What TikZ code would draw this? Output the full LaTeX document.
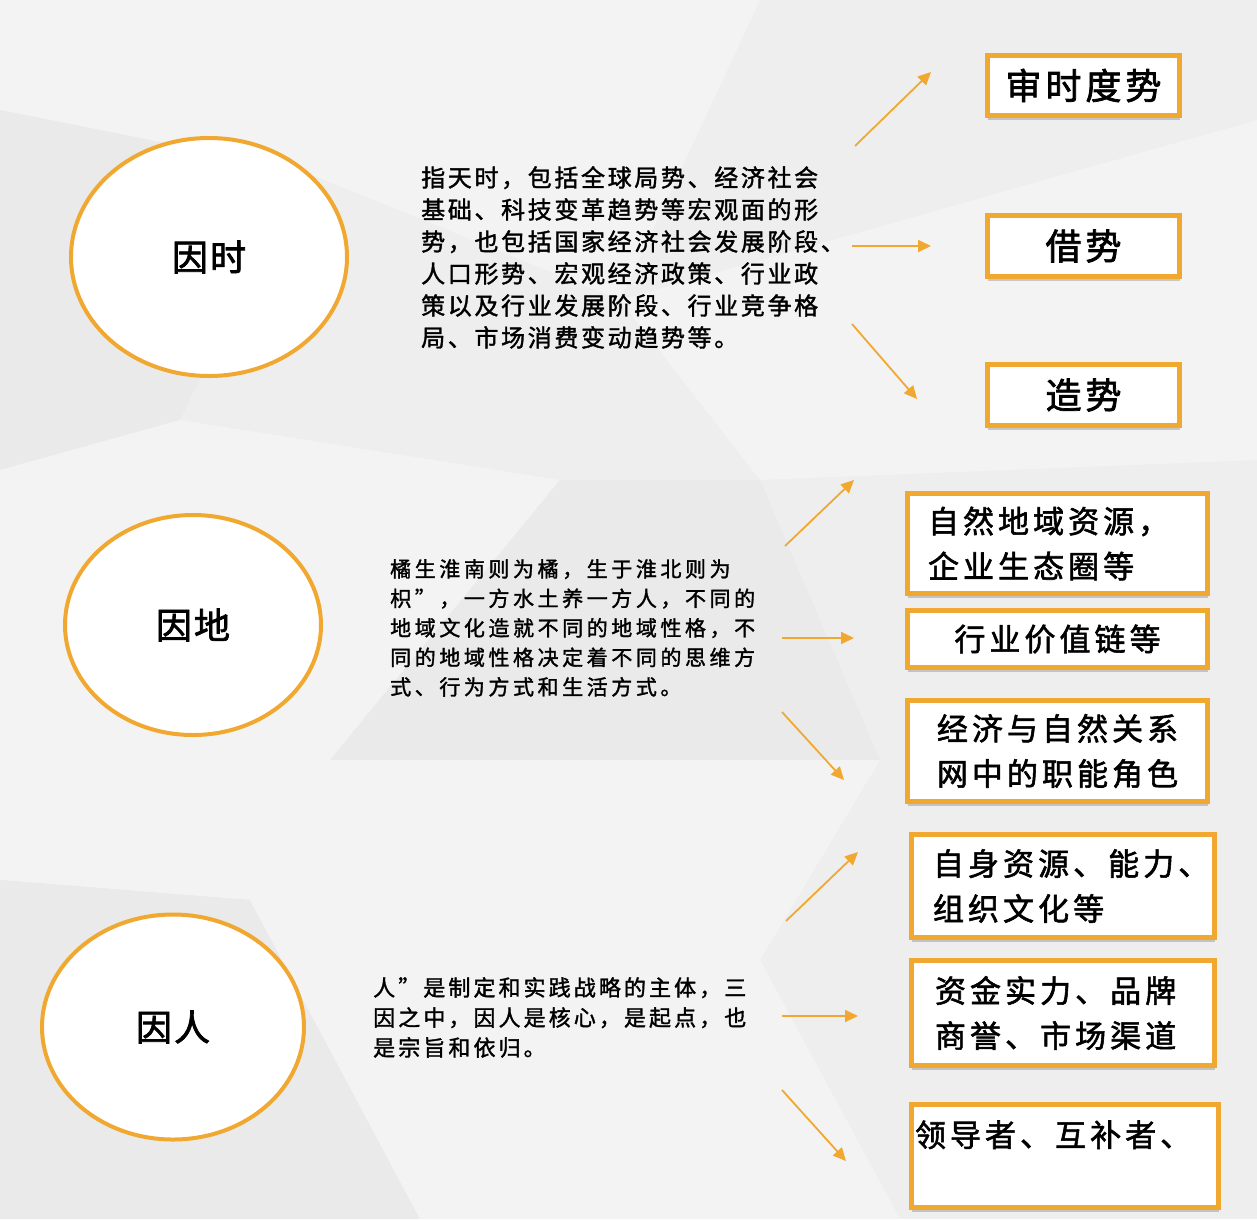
\documentclass[tikz,border=0pt]{standalone}
\usepackage{fontspec}
\setmainfont{Noto Sans CJK SC}
\newfontfamily\fEll[LetterSpace=6,FakeBold=2]{Noto Sans CJK SC}
\newfontfamily\fSmall[LetterSpace=11,FakeBold=2]{Noto Sans CJK SC}
\newfontfamily\fBig[LetterSpace=13,FakeBold=1.8]{Noto Sans CJK SC}
\newfontfamily\fDA[LetterSpace=11,FakeBold=1.5]{Noto Sans CJK SC}
\newfontfamily\fDB[LetterSpace=17,FakeBold=1.5]{Noto Sans CJK SC}
\newfontfamily\fDC[LetterSpace=14,FakeBold=1.5]{Noto Sans CJK SC}
\usetikzlibrary{arrows.meta,shapes.geometric,shadows}
\definecolor{org}{RGB}{240,168,48}
\definecolor{bg}{RGB}{238,238,238}
\definecolor{bgl}{RGB}{243,243,243}
\definecolor{bgd}{RGB}{234,234,234}
\begin{document}
\begin{tikzpicture}[x=1pt,y=-1pt,
  ell/.style={ellipse,draw=org,line width=4pt,fill=white,inner sep=0pt,
    font=\fEll\fontsize{36}{40}\selectfont},
  boxshadow/.style={drop shadow={shadow xshift=0pt,shadow yshift=-4pt,opacity=0.18,fill=black}},
  sbox/.style={draw=org,line width=5pt,fill=white,inner sep=0pt,boxshadow,
    minimum width=192pt,minimum height=61pt,
    font=\fSmall\fontsize{36}{40}\selectfont},
  bbox/.style={draw=org,line width=5pt,fill=white,inner sep=0pt,boxshadow,
    font=\fBig\fontsize{31}{45}\selectfont},
  desc/.style={anchor=north west,inner sep=0pt,align=left},
  arr/.style={draw=org,line width=1.8pt,-{Triangle[length=13pt,width=12pt]}}]
\useasboundingbox (0,0) rectangle (1257,1219);
\fill[bg] (0,0) rectangle (1257,1219);
% faint background facets
\fill[bgl] (0,0) -- (560,0) -- (300,170) -- (0,110) -- cycle;
\fill[bgl] (300,170) -- (560,0) -- (760,0) -- (620,300) -- cycle;
\fill[bgd] (0,110) -- (300,170) -- (180,420) -- (0,470) -- cycle;
\fill[bgl] (620,300) -- (1257,120) -- (1257,460) -- (760,480) -- cycle;
\fill[bgl] (0,470) -- (180,420) -- (560,480) -- (330,760) -- (0,700) -- cycle;
\fill[bgd] (560,480) -- (760,480) -- (880,760) -- (330,760) -- cycle;
\fill[bgl] (0,700) -- (330,760) -- (250,900) -- (0,880) -- cycle;
\fill[bgl] (330,760) -- (880,760) -- (760,960) -- (250,900) -- cycle;
\fill[bgd] (0,880) -- (250,900) -- (420,1219) -- (0,1219) -- cycle;
\fill[bgl] (250,900) -- (760,960) -- (900,1219) -- (420,1219) -- cycle;

% ellipses
\node[ell,minimum width=276pt,minimum height=238pt] (t) at (209,257) {因时};
\node[ell,minimum width=256pt,minimum height=220pt] (d) at (193,625) {因地};
\node[ell,minimum width=262pt,minimum height=225pt] (r) at (173,1027) {因人};

% descriptions
\node[desc,font=\fDA\fontsize{24}{32}\selectfont] (dA) at (421,166) {指天时，包括全球局势、经济社会\\基础、科技变革趋势等宏观面的形\\势，也包括国家经济社会发展阶段、\\人口形势、宏观经济政策、行业政\\策以及行业发展阶段、行业竞争格\\局、市场消费变动趋势等。};
\node[desc,font=\fDB\fontsize{21}{29.5}\selectfont] (dB) at (390,559) {橘生淮南则为橘，生于淮北则为\\枳”，一方水土养一方人，不同的\\地域文化造就不同的地域性格，不\\同的地域性格决定着不同的思维方\\式、行为方式和生活方式。};
\node[desc,font=\fDC\fontsize{22}{30}\selectfont] (dC) at (373,977) {人”是制定和实践战略的主体，三\\因之中，因人是核心，是起点，也\\是宗旨和依归。};

% small boxes
\node[sbox,minimum height=60pt] (b1) at (1083.5,85.5) {审时度势};
\node[sbox] (b2) at (1083.5,246) {借势};
\node[sbox] (b3) at (1083.5,395) {造势};

% big boxes
\node[bbox,minimum width=300pt,minimum height=100pt,text width=259pt,align=left] (b4) at (1057.5,543.5) {自然地域资源，\\企业生态圈等};
\node[bbox,minimum width=300pt,minimum height=57pt] (b5) at (1057.5,639) {行业价值链等};
\node[bbox,minimum width=300pt,minimum height=101pt,align=center] (b6) at (1057.5,751) {经济与自然关系\\网中的职能角色};
\node[bbox,minimum width=303pt,minimum height=103pt,text width=260pt,align=left] (b7) at (1063,886) {自身资源、能力、\\组织文化等};
\node[bbox,minimum width=303pt,minimum height=105pt,text width=256pt,align=left] (b8) at (1063,1013) {资金实力、品牌\\商誉、市场渠道};
\node[bbox,minimum width=307pt,minimum height=103pt,text depth=45pt,text width=300pt,align=left] (b9) at (1065,1156) {领导者、互补者、};

% arrow end points
\coordinate (a1s) at (855,146); \coordinate (a1e) at (931,72);
\coordinate (a2s) at (852,246); \coordinate (a2e) at (931,246);
\coordinate (a3s) at (852,324); \coordinate (a3e) at (917,399);
\coordinate (a4s) at (785,546); \coordinate (a4e) at (854,480);
\coordinate (a5s) at (782,638); \coordinate (a5e) at (854,638);
\coordinate (a6s) at (782,712); \coordinate (a6e) at (844,780);
\coordinate (a7s) at (786,921); \coordinate (a7e) at (858,852);
\coordinate (a8s) at (782,1016); \coordinate (a8e) at (858,1016);
\coordinate (a9s) at (782,1090); \coordinate (a9e) at (846,1161);
\foreach \i in {1,...,9} \draw[arr] (a\i s) -- (a\i e);
\end{tikzpicture}
\end{document}
